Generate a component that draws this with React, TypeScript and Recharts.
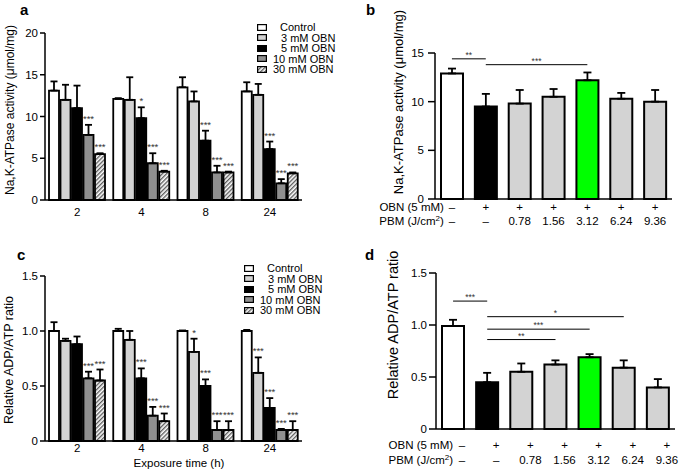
import { BarChart, Bar, XAxis, YAxis, ErrorBar, LabelList, Legend, Cell, ReferenceLine } from "recharts";

const FONT = "'Liberation Sans', Arial, sans-serif";

// a / c: time course
const hours = ["2", "4", "8", "24"];
const seriesNames = ["Control", "3 mM OBN", "5 mM OBN", "10 mM OBN", "30 mM OBN"];

const atpControl = [13.1, 12.1, 13.5, 13.0];
const atp3mM = [12.0, 12.0, 11.8, 12.6];
const atp5mM = [11.0, 9.8, 7.1, 6.1];
const atp10mM = [7.8, 4.4, 3.3, 2.0];
const atp30mM = [5.5, 3.4, 3.3, 3.2];
const atpControlErr = [1.1, 0.1, 1.2, 1.1];
const atp3mMErr = [1.8, 2.7, 1.2, 1.3];
const atp5mMErr = [2.7, 1.3, 1.2, 0.9];
const atp10mMErr = [1.2, 1.2, 0.8, 0.5];
const atp30mMErr = [0.1, 0.1, 0.1, 0.1];
const atpSig5mM = ["", "*", "***", "***"];
const atpSig10mM = ["***", "***", "***", "***"];
const atpSig30mM = ["***", "***", "***", "***"];

const adpControl = [1.0, 1.0, 1.0, 1.0];
const adp3mM = [0.91, 0.92, 0.81, 0.62];
const adp5mM = [0.88, 0.57, 0.5, 0.3];
const adp10mM = [0.57, 0.23, 0.1, 0.1];
const adp30mM = [0.55, 0.18, 0.1, 0.1];
const adpControlErr = [0.08, 0.02, 0.005, 0.01];
const adp3mMErr = [0.02, 0.08, 0.12, 0.14];
const adp5mMErr = [0.07, 0.09, 0.06, 0.09];
const adp10mMErr = [0.06, 0.08, 0.08, 0.01];
const adp30mMErr = [0.1, 0.07, 0.08, 0.08];
const adpSig3mM = ["", "", "*", "***"];
const adpSig5mM = ["", "***", "***", "***"];
const adpSig10mM = ["***", "***", "***", "***"];
const adpSig30mM = ["***", "***", "***", "***"];

// b / d: PBM dose
const doseGroups = ["Control", "OBN", "OBN+0.78", "OBN+1.56", "OBN+3.12", "OBN+6.24", "OBN+9.36"];
const obnRow = ["–", "+", "+", "+", "+", "+", "+"];
const pbmRow = ["–", "–", "0.78", "1.56", "3.12", "6.24", "9.36"];
const pbmAtp = [12.9, 9.5, 9.8, 10.5, 12.2, 10.3, 10.0];
const pbmAtpErr = [0.5, 1.3, 1.4, 0.8, 0.8, 0.6, 1.2];
const pbmAtpBrackets: [number, number, number, string][] = [
  [0, 1, 14.4, "**"],
  [1, 4, 13.8, "***"],
];
const pbmAdp = [0.99, 0.45, 0.55, 0.62, 0.69, 0.59, 0.4];
const pbmAdpErr = [0.06, 0.09, 0.08, 0.04, 0.03, 0.07, 0.08];
const pbmAdpBrackets: [number, number, number, string][] = [
  [0, 1, 1.23, "***"],
  [1, 5, 1.08, "*"],
  [1, 4, 0.96, "***"],
  [1, 3, 0.86, "**"],
];

const blank = ["", "", "", ""];
const atpVals = [atpControl, atp3mM, atp5mM, atp10mM, atp30mM];
const atpErrs = [atpControlErr, atp3mMErr, atp5mMErr, atp10mMErr, atp30mMErr];
const atpSigs = [blank, blank, atpSig5mM, atpSig10mM, atpSig30mM];
const adpVals = [adpControl, adp3mM, adp5mM, adp10mM, adp30mM];
const adpErrs = [adpControlErr, adp3mMErr, adp5mMErr, adp10mMErr, adp30mMErr];
const adpSigs = [blank, adpSig3mM, adpSig5mM, adpSig10mM, adpSig30mM];

const buildRows = (vals: number[][], errs: number[][], sigs: string[][]) =>
  hours.map((h, i) => {
    const row: any = { hour: h };
    vals.forEach((v, k) => {
      row[`v${k}`] = v[i];
      row[`e${k}`] = [0, errs[k][i]];
      row[`s${k}`] = sigs[k][i];
    });
    return row;
  });

const rowsA = buildRows(atpVals, atpErrs, atpSigs);
const rowsC = buildRows(adpVals, adpErrs, adpSigs);
const rowsB = doseGroups.map((g, i) => ({ group: g, v: pbmAtp[i], e: [0, pbmAtpErr[i]] }));
const rowsD = doseGroups.map((g, i) => ({ group: g, v: pbmAdp[i], e: [0, pbmAdpErr[i]] }));

const doseFills = ["#ffffff", "#000000", "#d3d3d3", "#d3d3d3", "#00ff00", "#d3d3d3", "#d3d3d3"];
const timeFills = (hatch: string) => ["#ffffff", "#d3d3d3", "#000000", "#8f8f8f", `url(#${hatch})`];
const legendIndent = [7, 8, 8, 0, 0];

const starLabel = (vals: number[], errs: number[]) => (p: any) => {
  const vb = p.viewBox || p;
  const { x, y, width, height } = vb;
  const i = p.index;
  if (!p.value || i == null) return null;
  const lift = vals[i] ? (height * errs[i]) / vals[i] : 0;
  return (
    <text x={x + width / 2} y={y - lift - 3} textAnchor="middle" fontSize={9.5} fill="#333">
      {p.value}
    </text>
  );
};

const LegendBox = ({ payload }: any) => (
  <div style={{ fontFamily: FONT, fontSize: 11, color: "#000" }}>
    {(payload || []).map((e: any, i: number) => (
      <div key={i} style={{ display: "flex", alignItems: "center", height: 10.5, lineHeight: "10.5px" }}>
        <svg width={10} height={7} style={{ marginRight: 6 }}>
          <rect x={0.6} y={0.6} width={8.8} height={5.8} fill={e.color} stroke="#000" strokeWidth={1.2} />
        </svg>
        <span style={{ paddingLeft: legendIndent[i] }}>{e.value}</span>
      </div>
    ))}
  </div>
);

const yLabel = (text: string, cx: number, cy: number, size: number) => (
  <text
    x={cx}
    y={cy}
    transform={`rotate(-90 ${cx} ${cy})`}
    textAnchor="middle"
    dominantBaseline="central"
    fontSize={size}
    fill="#000"
  >
    {text}
  </text>
);

const panelLetter = (t: string, x: number, y: number) => (
  <text x={x} y={y} fontSize={15} fontWeight="bold" fill="#000">
    {t}
  </text>
);

const hatchDef = (id: string) => (
  <defs>
    <pattern id={id} width={3} height={3} patternUnits="userSpaceOnUse" patternTransform="rotate(45)">
      <rect width={3} height={3} fill="#fff" />
      <line x1={0.7} y1={0} x2={0.7} y2={3} stroke="#555" strokeWidth={1.3} />
    </pattern>
  </defs>
);

const makeDoseTick = (dx: number, dy1: number, dy2: number, size: number, gap: number) => (p: any) => {
  const { x, y, index } = p;
  const cx = x + dx;
  return (
    <g fill="#000" fontSize={size}>
      {index === 0 && (
        <>
          <text x={cx - gap} y={y + dy1} textAnchor="end">
            OBN (5 mM)
          </text>
          <text x={cx - gap} y={y + dy2} textAnchor="end">
            PBM (J/cm<tspan dy={-4} fontSize={size * 0.7}>2</tspan>
            <tspan dy={4}>)</tspan>
          </text>
        </>
      )}
      <text x={cx} y={y + dy1} textAnchor="middle">
        {obnRow[index]}
      </text>
      <text x={cx} y={y + dy2} textAnchor="middle">
        {pbmRow[index]}
      </text>
    </g>
  );
};

const axisLine = { stroke: "#000", strokeWidth: 1.5 };
const tickLine = { stroke: "#000", strokeWidth: 1.5 };
const ratioFmt = (v: number) => (v === 0 ? "0" : v.toFixed(1));

const TimePanel = ({ rows, vals, errs, hatch, domain, ticks, fmt, top, height, tickMargin, legendTop, legendLeft }: any) => (
  <BarChart
    width={340}
    height={height}
    data={rows}
    margin={{ top, right: 38, bottom: 0, left: 0 }}
    barCategoryGap={4}
    barGap={1.5}
  >
    {hatchDef(hatch)}
    <XAxis
      dataKey="hour"
      interval={0}
      tickLine={false}
      tickSize={0}
      tickMargin={tickMargin}
      height={height - top - (domain[1] === 20 ? 167 : 165)}
      axisLine={axisLine}
      tick={{ fill: "#000", fontSize: 11.5 }}
    />
    <YAxis
      width={45}
      domain={domain}
      ticks={ticks}
      tickFormatter={fmt}
      tickSize={5}
      tickMargin={2}
      axisLine={axisLine}
      tickLine={tickLine}
      tick={{ fill: "#000", fontSize: 11.5 }}
    />
    <Legend
      layout="vertical"
      align="center"
      verticalAlign="middle"
      itemSorter="dataKey"
      content={<LegendBox />}
      wrapperStyle={{ top: legendTop, left: legendLeft, width: 90, height: "auto" }}
    />
    {seriesNames.map((n, k) => (
      <Bar
        key={n}
        dataKey={`v${k}`}
        name={n}
        fill={timeFills(hatch)[k]}
        stroke="#000"
        strokeWidth={1.8}
        isAnimationActive={false}
      >
        <ErrorBar dataKey={`e${k}`} direction="y" width={3.5} stroke="#000" strokeWidth={1.8} isAnimationActive={false} />
        <LabelList dataKey={`s${k}`} content={starLabel(vals[k], errs[k])} />
      </Bar>
    ))}
  </BarChart>
);

const DosePanel = ({ rows, brackets, domain, ticks, fmt, top, height, right, yWidth, tickSize, tickMargin, doseTick, xHeight }: any) => (
  <BarChart
    width={345}
    height={height}
    data={rows}
    margin={{ top, right, bottom: 0, left: 0 }}
    barCategoryGap={6}
  >
    <XAxis
      dataKey="group"
      interval={0}
      tickLine={false}
      tickSize={0}
      tickMargin={0}
      height={xHeight}
      axisLine={axisLine}
      tick={doseTick}
    />
    <YAxis
      width={yWidth}
      domain={domain}
      ticks={ticks}
      tickFormatter={fmt}
      tickSize={tickSize}
      tickMargin={tickMargin}
      axisLine={axisLine}
      tickLine={tickLine}
      tick={{ fill: "#000", fontSize: 11.5 }}
    />
    <Bar dataKey="v" stroke="#000" strokeWidth={2} isAnimationActive={false}>
      {rows.map((r: any, i: number) => (
        <Cell key={r.group} fill={doseFills[i]} />
      ))}
      <ErrorBar dataKey="e" direction="y" width={4} stroke="#000" strokeWidth={1.8} isAnimationActive={false} />
    </Bar>
    {brackets.map(([a, b, lvl, mark]: any, i: number) => (
      <ReferenceLine
        key={i}
        segment={[
          { x: doseGroups[a], y: lvl },
          { x: doseGroups[b], y: lvl },
        ]}
        stroke="#000"
        strokeWidth={1}
        label={{ value: mark, position: "top", offset: 1, fontSize: 8.5, fill: "#333" }}
      />
    ))}
  </BarChart>
);

export default function App() {
  return (
    <div
      style={{
        position: "absolute",
        left: 0,
        top: 0,
        width: 685,
        height: 471,
        background: "#fff",
        fontFamily: FONT,
        overflow: "hidden",
      }}
    >
      <div style={{ position: "absolute", left: 0, top: 0 }}>
        <TimePanel
          rows={rowsA}
          vals={atpVals}
          errs={atpErrs}
          hatch="hatchA"
          domain={[0, 20]}
          ticks={[0, 5, 10, 15, 20]}
          fmt={(v: number) => String(v)}
          top={33}
          height={235}
          tickMargin={8}
          legendTop={22}
          legendLeft={257}
        />
      </div>
      <div style={{ position: "absolute", left: 0, top: 235 }}>
        <TimePanel
          rows={rowsC}
          vals={adpVals}
          errs={adpErrs}
          hatch="hatchC"
          domain={[0, 1.5]}
          ticks={[0, 0.5, 1, 1.5]}
          fmt={ratioFmt}
          top={41}
          height={236}
          tickMargin={3}
          legendTop={28}
          legendLeft={244}
        />
      </div>
      <div style={{ position: "absolute", left: 340, top: 0 }}>
        <DosePanel
          rows={rowsB}
          brackets={pbmAtpBrackets}
          domain={[0, 15]}
          ticks={[0, 5, 10, 15]}
          fmt={(v: number) => String(v)}
          top={53}
          height={235}
          right={13}
          yWidth={95}
          tickSize={7}
          tickMargin={4}
          xHeight={36}
          doseTick={makeDoseTick(0, 11.5, 26, 11.5, 8)}
        />
      </div>
      <div style={{ position: "absolute", left: 340, top: 235 }}>
        <DosePanel
          rows={rowsD}
          brackets={pbmAdpBrackets}
          domain={[0, 1.5]}
          ticks={[0, 0.5, 1, 1.5]}
          fmt={ratioFmt}
          top={38}
          height={236}
          right={10}
          yWidth={96}
          tickSize={7}
          tickMargin={2}
          xHeight={42}
          doseTick={makeDoseTick(9, 20, 35, 11.5, 9)}
        />
      </div>
      <svg width={685} height={471} style={{ position: "absolute", left: 0, top: 0, pointerEvents: "none" }} fontFamily={FONT}>
        {panelLetter("a", 20, 15)}
        {panelLetter("b", 366, 15)}
        {panelLetter("c", 17, 260)}
        {panelLetter("d", 365, 260)}
        {yLabel("Na,K-ATPase activity (μmol/mg)", 10, 110, 12)}
        {yLabel("Na,K-ATPase activity (μmol/mg)", 398, 102, 13)}
        {yLabel("Relative ADP/ATP ratio", 9, 360, 12.5)}
        {yLabel("Relative ADP/ATP ratio", 393, 325, 14.5)}
        <text x={179} y={467} textAnchor="middle" fontSize={11.5} fill="#000">
          Exposure time (h)
        </text>
      </svg>
    </div>
  );
}
